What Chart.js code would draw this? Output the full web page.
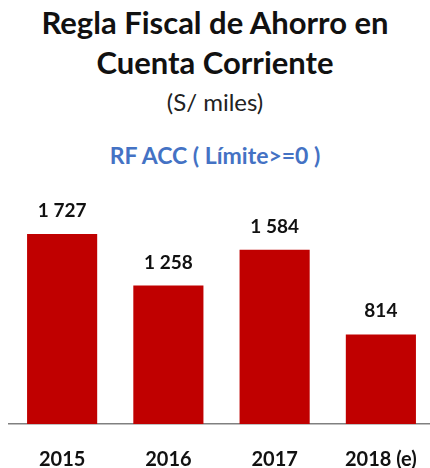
<!DOCTYPE html>
<html>
<head>
<meta charset="utf-8">
<script src="https://cdn.jsdelivr.net/npm/chart.js@4"></script>
<style>
  body { margin: 0; width: 430px; height: 468px; overflow: hidden; background: #fff; font-family: Lato, "Open Sans", sans-serif; position: relative; }
  .t { position: absolute; left: 0; width: 430px; text-align: center; white-space: nowrap; }
  #titulo1, #titulo2 { font-weight: bold; font-size: 31px; line-height: 37.2px; color: #111; }
  #titulo1 { top: 4px; }
  #titulo2 { top: 44px; }
  #unidad { top: 88px; font-size: 24px; line-height: 28.8px; color: #222; }
  #regla { top: 142px; font-size: 23px; line-height: 27.6px; font-weight: bold; color: #4472C4; }
  #wrap { position: absolute; left: 0; top: 0; width: 436px; height: 468px; }
</style>
</head>
<body>
<div class="t" id="titulo1">Regla Fiscal de Ahorro en</div>
<div class="t" id="titulo2">Cuenta Corriente</div>
<div class="t" id="unidad">(S/ miles)</div>
<div class="t" id="regla">RF ACC ( Límite&gt;=0 )</div>
<div id="wrap"><canvas id="grafico"></canvas></div>
<script>
var anos = ['2015', '2016', '2017', '2018 (e)']
var valores = [1727, 1258, 1584, 814]

function formatar(n) {
    return String(n).replace(/\B(?=(\d{3})+(?!\d))/g, ' ')
}

// escreve o valor em cima de cada barra
var rotulos = {
    id: 'rotulos',
    afterDatasetsDraw: function (chart) {
        var ctx = chart.ctx
        ctx.save()
        ctx.font = 'bold 19px Lato'
        ctx.fillStyle = '#111'
        ctx.textAlign = 'center'
        ctx.textBaseline = 'alphabetic'
        chart.getDatasetMeta(0).data.forEach(function (barra, i) {
            ctx.fillText(formatar(valores[i]), barra.x, barra.y - 17)
        })
        ctx.restore()
    }
}

const ctx = document.getElementById('grafico')

new Chart(ctx, {
    type: 'bar',
    data: {
        labels: anos,
        datasets: [{
            data: valores,
            backgroundColor: '#C00000',
            categoryPercentage: 1,
            barPercentage: 0.66
        }]
    },
    options: {
        responsive: true,
        maintainAspectRatio: false,
        animation: false,
        layout: { padding: { top: 204, left: 9, right: 2, bottom: 0 } },
        plugins: {
            legend: { display: false },
            tooltip: { enabled: false }
        },
        scales: {
            x: {
                grid: { display: false, drawTicks: false },
                border: { display: true, color: '#808080', width: 1.5 },
                ticks: {
                    color: '#111',
                    padding: 18,
                    maxRotation: 0,
                    font: { family: 'Lato', size: 20, weight: 'bold', lineHeight: 1.8 }
                },
                afterFit: function (eixo) {
                    eixo.height = 44
                }
            },
            y: {
                display: false,
                min: 0,
                max: 2000
            }
        }
    },
    plugins: [rotulos]
})
</script>
</body>
</html>
